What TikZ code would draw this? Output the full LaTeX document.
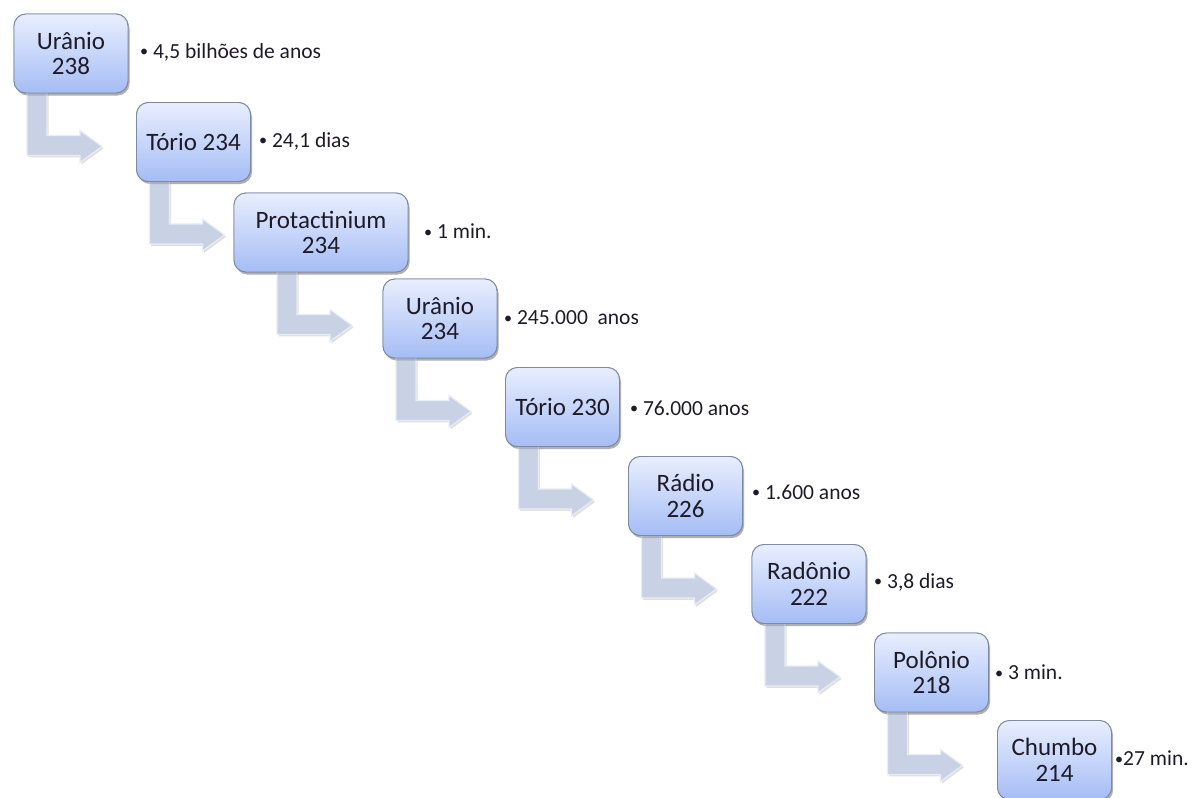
\documentclass[tikz,border=0pt]{standalone}
\usepackage{fontspec}
\setmainfont{Carlito}
\usetikzlibrary{shadows}
\definecolor{boxtop}{HTML}{E8EEFE}
\definecolor{boxbot}{HTML}{A5BDF5}
\definecolor{boxline}{HTML}{7E8AA0}
\definecolor{arrowfill}{HTML}{C8D2E4}
\definecolor{arrowedge}{HTML}{E9EDF4}
\definecolor{txt}{HTML}{1E1A28}
\newcommand{\smallbullet}{\raisebox{0.12ex}{\scalebox{0.75}{•}}}
\begin{document}
\begin{tikzpicture}[x=1pt,y=-1pt,
  stage/.style={draw=boxline, line width=0.9pt, rounded corners=12pt,
    top color=boxtop, bottom color=boxbot, minimum width=114pt, minimum height=79pt,
    inner sep=0pt, align=center, font=\fontsize{25}{25.5}\selectfont, text=txt,
    drop shadow={shadow xshift=1.5pt, shadow yshift=-2.5pt, opacity=0.3, fill=black!60}},
  note/.style={anchor=west, inner sep=0pt, font=\fontsize{21.5}{24}\selectfont, text=txt},
  bent/.style={fill=arrowfill, draw=arrowedge, line width=1.2pt,
    drop shadow={shadow xshift=1.5pt, shadow yshift=-2pt, opacity=0.25, fill=black!50}}
]
\useasboundingbox (0,0) rectangle (1192,798);

% stages
\path (71,53.5)    node[stage] (b1) {Urânio\\238};
\path (193.5,142)  node[stage] (b2) {Tório 234};
\path (321,232.5)  node[stage, minimum width=174pt] (b3) {Protactinium\\234};
\path (440,318.5)  node[stage] (b4) {Urânio\\234};
\path (562.5,407)  node[stage] (b5) {Tório 230};
\path (685.5,496)  node[stage] (b6) {Rádio\\226};
\path (809,584)    node[stage] (b7) {Radônio\\222};
\path (931.5,672.5) node[stage] (b8) {Polônio\\218};
\path (1054.5,760) node[stage] (b9) {Chumbo\\214};

% bent arrows
\newcommand{\bentarrow}[1]{%
  \begin{scope}[shift={(#1.south)}]
    \path[bent] (-44,-4) -- (-24,-4) -- (-24,42) -- (9,42) -- (9,37) -- (31,53)
      -- (9,69) -- (9,62) -- (-44,62) -- cycle;
  \end{scope}}
\bentarrow{b1}
\bentarrow{b2}
\bentarrow{b3}
\bentarrow{b4}
\bentarrow{b5}
\bentarrow{b6}
\bentarrow{b7}
\bentarrow{b8}

% redraw stages on top of arrows
\path (71,53.5)    node[stage] {Urânio\\238};
\path (193.5,142)  node[stage] {Tório 234};
\path (321,232.5)  node[stage, minimum width=174pt] {Protactinium\\234};
\path (440,318.5)  node[stage] {Urânio\\234};
\path (562.5,407)  node[stage] {Tório 230};
\path (685.5,496)  node[stage] {Rádio\\226};
\path (809,584)    node[stage] {Radônio\\222};
\path (931.5,672.5) node[stage] {Polônio\\218};
\path (1054.5,760) node[stage] {Chumbo\\214};

% half-life notes
\node[note] (l1) at (140,52)  {\smallbullet\ 4,5 bilhões de anos};
\node[note] (l2) at (259,141) {\smallbullet\ 24,1 dias};
\node[note] (l3) at (424,231) {\smallbullet\ 1 min.};
\node[note] (l4) at (504,318) {\smallbullet\ 245.000\ \ anos};
\node[note] (l5) at (630,408) {\smallbullet\ 76.000 anos};
\node[note] (l6) at (752,492) {\smallbullet\ 1.600 anos};
\node[note] (l7) at (874,582) {\smallbullet\ 3,8 dias};
\node[note] (l8) at (995,672) {\smallbullet\ 3 min.};
\node[note] (l9) at (1115,758) {\smallbullet 27 min.};
\end{tikzpicture}
\end{document}
